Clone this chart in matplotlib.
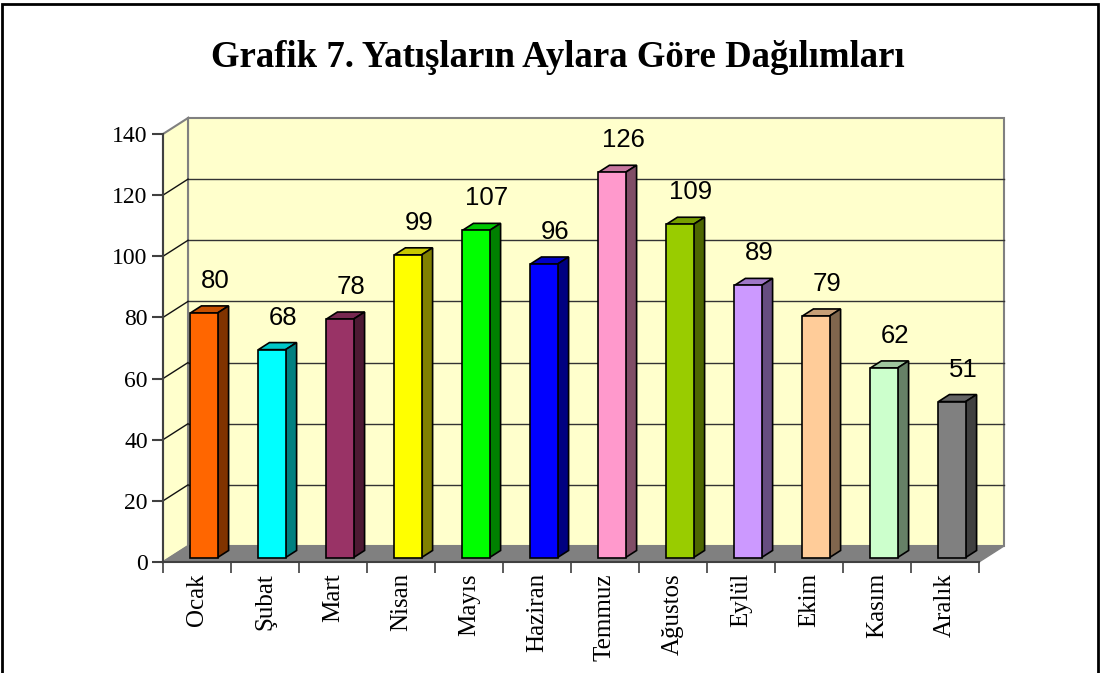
import matplotlib
matplotlib.use("Agg")
import matplotlib.pyplot as plt
from matplotlib.patches import Polygon, Rectangle
from matplotlib.lines import Line2D
from matplotlib.transforms import IdentityTransform
from matplotlib.colors import to_rgb

# chart data
months = ["Ocak", "Şubat", "Mart", "Nisan", "Mayıs", "Haziran",
          "Temmuz", "Ağustos", "Eylül", "Ekim", "Kasım", "Aralık"]
values = [80, 68, 78, 99, 107, 96, 126, 109, 89, 79, 62, 51]
colors = ["#FF6600", "#00FFFF", "#993366", "#FFFF00", "#00FF00", "#0000FF",
          "#FF99CC", "#99CC00", "#CC99FF", "#FFCC99", "#CCFFCC", "#808080"]
y_ticks = [0, 20, 40, 60, 80, 100, 120, 140]
title = "Grafik 7. Yatışların Aylara Göre Dağılımları"

W, H = 1101, 673
fig = plt.figure(figsize=(W / 100, H / 100), dpi=100)
ax = fig.add_axes([163 / W, 111 / H, 816 / W, 428 / H])
ax.set_xlim(0, len(months))
ax.set_ylim(0, 140)
ax.patch.set_visible(False)

# depth offset of the 3d box in pixels
DX, DY = 25, 16
ident = IdentityTransform()


def proj(x, y, d):
    px, py = ax.transData.transform((x, y))
    return (px + DX * d, py + DY * d)


def face(pts, fc, ec="black", lw=1.0, z=1):
    poly = Polygon([proj(*p) for p in pts], closed=True, facecolor=fc,
                   edgecolor=ec, lw=lw, transform=ident, zorder=z, clip_on=False)
    ax.add_artist(poly)


def seg(p0, p1, color, lw=1.0, z=1.5):
    a, b = proj(*p0), proj(*p1)
    ax.add_artist(Line2D([a[0], b[0]], [a[1], b[1]], color=color, lw=lw,
                         transform=ident, zorder=z, clip_on=False))


n = len(months)
top = y_ticks[-1]

# walls and floor
face([(0, 0, 1), (n, 0, 1), (n, top, 1), (0, top, 1)], "#FFFFCC", "#808080", 1.5, 0.5)
face([(0, 0, 0), (0, top, 0), (0, top, 1), (0, 0, 1)], "#FFFFCC", "#808080", 1.5, 0.5)
face([(0, 0, 0), (n, 0, 0), (n, 0, 1), (0, 0, 1)], "#808080", "#808080", 1.0, 0.6)

# gridlines on back and side walls
for v in y_ticks[1:-1]:
    seg((0, v, 1), (n, v, 1), "#333333", 1.0, 0.7)
    seg((0, v, 0), (0, v, 1), "#111111", 1.0, 0.7)

# bars
d0, d1 = 0.28, 0.72
for i, (v, c) in enumerate(zip(values, colors)):
    x0, x1 = i + 0.3, i + 0.7
    rgb = to_rgb(c)
    side = tuple(ch * 0.5 for ch in rgb)
    topc = tuple(ch * 0.78 for ch in rgb)
    face([(x0, v, d0), (x1, v, d0), (x1, v, d1), (x0, v, d1)], topc, "black", 1.2, 3)
    face([(x1, 0, d0), (x1, 0, d1), (x1, v, d1), (x1, v, d0)], side, "black", 1.2, 3)
    face([(x0, 0, d0), (x1, 0, d0), (x1, v, d0), (x0, v, d0)], c, "black", 1.2, 3)
    px, py = proj(i + 0.5, v, d1)
    ax.text(px, py + 18, str(v), transform=ident, ha="center", va="baseline",
            fontsize=18.5, family="Liberation Sans", zorder=4)

# axes
for s in ["top", "right"]:
    ax.spines[s].set_visible(False)
for s in ["left", "bottom"]:
    ax.spines[s].set_color("#404040")
    ax.spines[s].set_linewidth(1.5)

ax.set_yticks(y_ticks)
ax.set_yticklabels([str(t) for t in y_ticks], family="Liberation Serif", fontsize=17)
ax.tick_params(axis="y", direction="out", length=8, width=1.5, color="#404040", pad=3)

ax.set_xticks(range(n + 1))
ax.set_xticklabels([])
ax.set_xticks([i + 0.5 for i in range(n)], minor=True)
ax.set_xticklabels(months, minor=True, rotation=90, family="Liberation Serif", fontsize=18)
ax.tick_params(axis="x", which="major", direction="out", length=8, width=1.2, color="#404040")
ax.tick_params(axis="x", which="minor", length=0, pad=8)

fig.text(558 / W, (H - 67) / H, title, ha="center", va="baseline",
         family="Liberation Serif", fontweight="bold", fontsize=26.5)

# outer frame
fig.add_artist(Rectangle((2, -10), W - 5, H - 2 + 10 - 2, transform=ident,
                         fill=False, edgecolor="black", lw=2))

fig.savefig("out.png", dpi=100)
